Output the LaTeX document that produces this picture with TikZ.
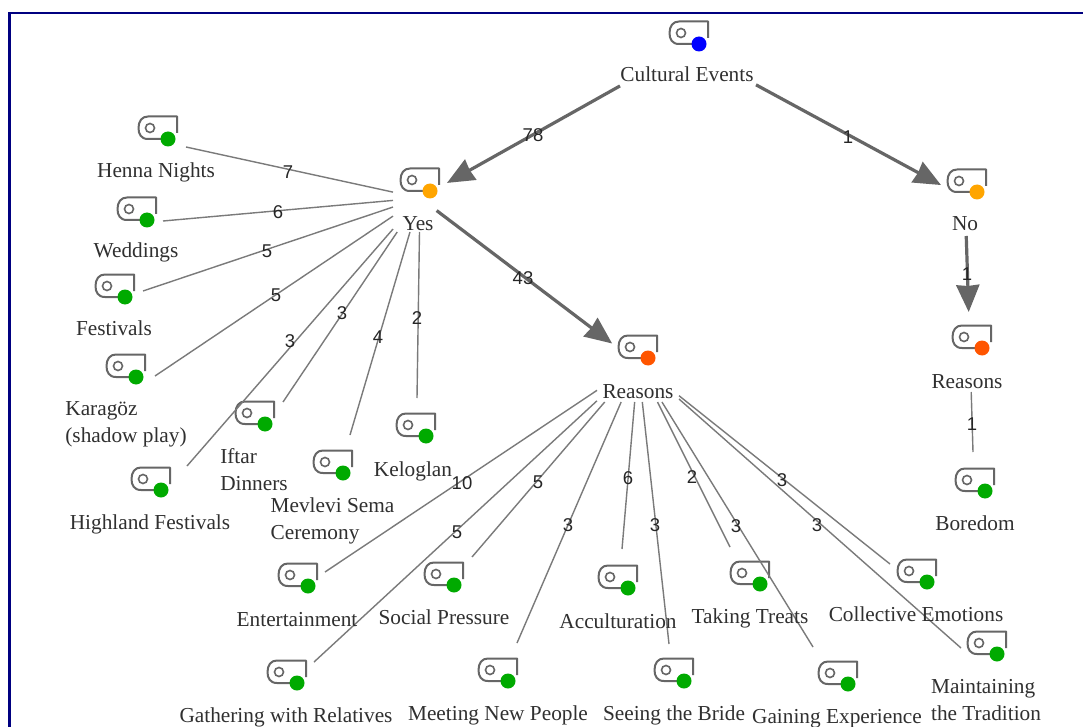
\documentclass[tikz,border=0pt]{standalone}
\usepackage{fontspec}
\setmainfont{Liberation Serif}
\newfontfamily\numfont{Liberation Sans}
\usetikzlibrary{arrows.meta}
\definecolor{framec}{HTML}{000080}
\definecolor{edgec}{HTML}{666666}
\definecolor{thinc}{HTML}{7A7A7A}
\definecolor{txtc}{HTML}{303030}
\definecolor{dotb}{HTML}{0000FF}
\definecolor{doto}{HTML}{FFA500}
\definecolor{dotr}{HTML}{FF5500}
\definecolor{dotg}{HTML}{00AA00}
\tikzset{
  x=1pt,y=-1pt,
  hub/.style={rectangle,inner sep=0pt,outer sep=0pt,minimum width=#1},
  endpt/.style={circle,inner sep=0pt,outer sep=0pt,minimum size=0pt},
  lbl/.style={text=txtc,font=\fontsize{21.3}{27}\selectfont,inner sep=0pt,align=left,text height=17pt,text depth=1pt},
  num/.style={text=black!85,font=\numfont\fontsize{18.5}{20}\selectfont,inner sep=0pt},
  thick edge/.style={draw=edgec,line width=3.2pt},
  thin edge/.style={draw=thinc,line width=1.4pt},
  tip/.style={-{Stealth[length=27pt,width=23pt,inset=1pt]}},
}
% \icon{dot x}{dot y}{colour}
\newcommand{\icon}[3]{%
  \begin{scope}[shift={(#1,#2)}]
    \draw[edgec,line width=2pt,line join=round]
      (-7,0) -- (-20,0) .. controls (-27,0) and (-29.5,-5) .. (-29.5,-11)
      .. controls (-29.5,-18) and (-26,-22.5) .. (-20,-22.5) -- (9,-22.5) -- (9,-6);
    \draw[edgec,line width=1.6pt] (-18,-11) circle[radius=4.5];
    \fill[#3] (0,0) circle[radius=7.5];
  \end{scope}}
\begin{document}
\begin{tikzpicture}
\useasboundingbox (0,0) rectangle (1083,727);
\fill[white] (0,0) rectangle (1083,727);
\draw[framec,line width=2.2pt] (9.5,727) -- (9.5,13) -- (1083,13);

% icons
\icon{699}{44}{dotb}
\icon{430}{191}{doto}
\icon{977}{192}{doto}
\icon{648}{358}{dotr}
\icon{982}{348}{dotr}
\icon{168}{139}{dotg}
\icon{147}{220}{dotg}
\icon{125}{297}{dotg}
\icon{136}{377}{dotg}
\icon{161}{490}{dotg}
\icon{265}{424}{dotg}
\icon{343}{473}{dotg}
\icon{426}{436}{dotg}
\icon{985}{491}{dotg}
\icon{308}{586}{dotg}
\icon{454}{585}{dotg}
\icon{628}{588}{dotg}
\icon{760}{584}{dotg}
\icon{927}{582}{dotg}
\icon{297}{683}{dotg}
\icon{508}{681}{dotg}
\icon{684}{681}{dotg}
\icon{848}{684}{dotg}
\icon{997}{654}{dotg}

% hubs: invisible boxes that trim the connectors
\node[hub=136pt,minimum height=76pt] (cultural) at (688,48) {};
\node[hub=54pt,minimum height=68pt] (yes) at (420,198) {};
\node[hub=48pt,minimum height=76pt] (no) at (965,198) {};
\node[hub=82pt,minimum height=78pt] (reasonsA) at (638,363) {};
\node[hub=40pt,minimum height=80pt] (reasonsB) at (970,352) {};

% leaf attachment points
\node[endpt] (henna) at (186,147) {};
\node[endpt] (weddings) at (163,221) {};
\node[endpt] (festivals) at (143,291) {};
\node[endpt] (karagoz) at (155,376) {};
\node[endpt] (highland) at (187,466) {};
\node[endpt] (iftar) at (283,402) {};
\node[endpt] (mevlevi) at (350,435) {};
\node[endpt] (keloglan) at (417,398) {};
\node[endpt] (boredom) at (973,452) {};
\node[endpt] (entertainment) at (325,572) {};
\node[endpt] (social) at (472,557) {};
\node[endpt] (accult) at (622,549) {};
\node[endpt] (treats) at (730,547) {};
\node[endpt] (collective) at (890,564) {};
\node[endpt] (gathering) at (314,662) {};
\node[endpt] (meeting) at (517,643) {};
\node[endpt] (bride) at (669,644) {};
\node[endpt] (experience) at (813,647) {};
\node[endpt] (tradition) at (961,648) {};

% connectors
\draw[thick edge,tip] (cultural) -- (yes);
\draw[thick edge,tip] (cultural) -- (no);
\draw[thick edge,tip,shorten <=-13pt,shorten >=-19pt] (yes) -- (reasonsA);
\draw[thick edge,tip] (no) -- (reasonsB);
\foreach \t in {henna,weddings,festivals,karagoz,highland,iftar,mevlevi,keloglan}
  \draw[thin edge] (yes) -- (\t);
\foreach \t in {entertainment,social,accult,treats,collective,gathering,meeting,bride,experience,tradition}
  \draw[thin edge] (reasonsA) -- (\t);
\draw[thin edge] (reasonsB) -- (boredom);

% labels
\node[lbl] (lcultural) at (687,74) {Cultural Events};
\node[lbl] (lyes) at (418,222) {Yes};
\node[lbl] (lno) at (965,223) {No};
\node[lbl] (lreasonsA) at (638,390) {Reasons};
\node[lbl] (lreasonsB) at (967,380) {Reasons};
\node[lbl] (lhenna) at (156,170) {Henna Nights};
\node[lbl] (lweddings) at (136,250) {Weddings};
\node[lbl] (lfestivals) at (114,327) {Festivals};
\node[lbl] (lkaragoz) at (126,434.5) {Karagöz\\(shadow play)};
\node[lbl] (lhighland) at (150,521) {Highland Festivals};
\node[lbl] (liftar) at (254,482.5) {Iftar\\Dinners};
\node[lbl] (lmevlevi) at (332.5,531.5) {Mevlevi Sema\\Ceremony};
\node[lbl] (lkeloglan) at (413,468) {Keloglan};
\node[lbl] (lboredom) at (975,522) {Boredom};
\node[lbl] (lentertainment) at (297,618) {Entertainment};
\node[lbl] (lsocial) at (444,616) {Social Pressure};
\node[lbl] (laccult) at (618,620) {Acculturation};
\node[lbl] (ltreats) at (750,615) {Taking Treats};
\node[lbl] (lcollective) at (916,613) {Collective Emotions};
\node[lbl] (lgathering) at (286,714) {Gathering with Relatives};
\node[lbl] (lmeeting) at (498,712) {Meeting New People};
\node[lbl] (lbride) at (674,712) {Seeing the Bride};
\node[lbl] (lexperience) at (837,715) {Gaining Experience};
\node[lbl] (ltradition) at (986,712.5) {Maintaining\\the Tradition};

% connector numbers
\node[num] (n1) at (533,135) {78};
\node[num] (n2) at (848,137) {1};
\node[num] (n3) at (523,278) {43};
\node[num] (n4) at (967,274) {1};
\node[num] (n5) at (972,424) {1};
\node[num] (n6) at (288,172) {7};
\node[num] (n7) at (278,212) {6};
\node[num] (n8) at (267,251) {5};
\node[num] (n9) at (276,295) {5};
\node[num] (n10) at (290,341) {3};
\node[num] (n11) at (342,313) {3};
\node[num] (n12) at (378,337) {4};
\node[num] (n13) at (417,318) {2};
\node[num] (n14) at (462,483) {10};
\node[num] (n15) at (457,532) {5};
\node[num] (n16) at (538,482) {5};
\node[num] (n17) at (568,525) {3};
\node[num] (n18) at (628,478) {6};
\node[num] (n19) at (655,525) {3};
\node[num] (n20) at (692,477) {2};
\node[num] (n21) at (736,526) {3};
\node[num] (n22) at (782,480) {3};
\node[num] (n23) at (817,525) {3};
\end{tikzpicture}
\end{document}
